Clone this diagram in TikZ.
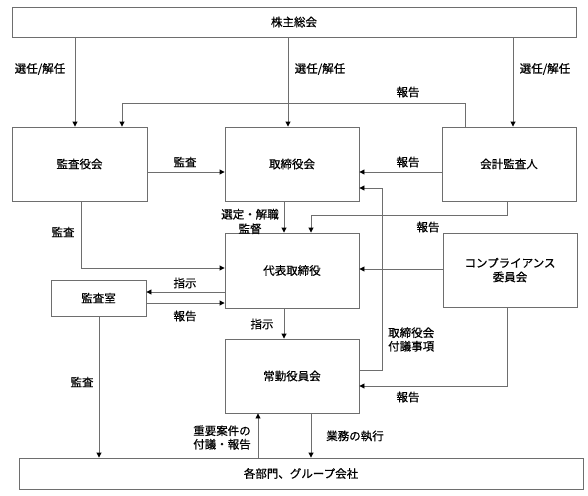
\documentclass[tikz,border=0pt]{standalone}
\usepackage{fontspec}
\setmainfont{Noto Sans CJK JP}[FakeBold=0.6]
\usetikzlibrary{arrows.meta}
\definecolor{linegray}{RGB}{110,110,110}
\tikzset{
  box/.style={draw=linegray, line width=0.9pt, inner sep=0pt, font=\fontsize{11.5}{14}\selectfont},
  arr/.style={draw=linegray, line width=0.9pt, -{Triangle[length=5pt,width=5pt,fill=black,color=black]}},
  plain/.style={draw=linegray, line width=0.9pt},
  lbl/.style={font=\fontsize{11.5}{13.5}\selectfont, inner sep=0pt, align=center}
}
\begin{document}
\begin{tikzpicture}[x=1pt,y=-1pt]
\useasboundingbox[fill=white] (0,0) rectangle (588,495);
% boxes
\node[box, minimum width=564pt, minimum height=30pt] (soukai) at (294,22) {株主総会};
\node[box, minimum width=135pt, minimum height=74pt] (kansayaku) at (79.5,164) {監査役会};
\node[box, minimum width=134pt, minimum height=74pt] (torishimari) at (292,164) {取締役会};
\node[box, minimum width=134pt, minimum height=74pt] (kaikei) at (509,164) {会計監査人};
\node[box, minimum width=134pt, minimum height=75pt] (daihyo) at (292,270.5) {代表取締役};
\node[box, minimum width=134pt, minimum height=74pt, align=center] (comp) at (510,270) {コンプライアンス\\委員会};
\node[box, minimum width=95pt, minimum height=36pt] (kansashitsu) at (98.5,298) {監査室};
\node[box, minimum width=134pt, minimum height=74pt] (joukin) at (292,376) {常勤役員会};
\node[box, minimum width=564pt, minimum height=31pt] (kakubu) at (301,473.5) {各部門、グループ会社};
% helper coordinates
\coordinate (x75) at (75,0);
\coordinate (x81) at (81,0);
\coordinate (x99) at (99,0);
\coordinate (x122) at (122,0);
\coordinate (x258) at (258,0);
\coordinate (x284) at (284,0);
\coordinate (x288) at (288,0);
\coordinate (x311) at (311,0);
\coordinate (x382) at (382,0);
\coordinate (x465) at (465,0);
\coordinate (x507) at (507,0);
\coordinate (x513) at (513,0);
\coordinate (y103) at (0,103);
\coordinate (y172) at (0,172);
\coordinate (y188) at (0,188);
\coordinate (y215) at (0,215);
\coordinate (y268) at (0,268);
\coordinate (y269) at (0,269);
\coordinate (y292) at (0,292);
\coordinate (y303) at (0,303);
\coordinate (y370) at (0,370);
\coordinate (y386) at (0,386);
% connectors from shareholders meeting
\draw[arr] (soukai.south -| x75) -- (kansayaku.north -| x75);
\draw[arr] (soukai.south -| x288) -- (torishimari.north -| x288);
\draw[arr] (soukai.south -| x513) -- (kaikei.north -| x513);
\node[lbl] (l1) at (40,69) {選任/解任};
\node[lbl] (l2) at (320,69) {選任/解任};
\node[lbl] (l3) at (545,69) {選任/解任};
% auditor report to audit board
\draw[arr] (kaikei.north -| x465) -- (x465 |- y103) -- (x122 |- y103) -- (kansayaku.north -| x122);
\node[lbl] (l4) at (408,92) {報告};
% audit board -> board
\draw[arr] (kansayaku.east |- y172) -- (torishimari.west |- y172);
\node[lbl] (l5) at (185,162) {監査};
% auditor -> board
\draw[arr] (kaikei.west |- y172) -- (torishimari.east |- y172);
\node[lbl] (l6) at (408,162) {報告};
% joukin -> board
\draw[arr] (joukin.east |- y370) -- (x382 |- y370) -- (x382 |- y188) -- (torishimari.east |- y188);
\node[lbl, align=left, anchor=west] (l7) at (388,339.5) {取締役会\\付議事項};
% board -> daihyo
\draw[arr] (torishimari.south -| x284) -- (daihyo.north -| x284);
\node[lbl, font=\fontsize{11.5}{14.5}\selectfont] (l8) at (250,221.5) {選定・解職\\監督};
% auditor -> daihyo
\draw[arr] (kaikei.south -| x507) -- (x507 |- y215) -- (x311 |- y215) -- (daihyo.north -| x311);
\node[lbl] (l9) at (428,227) {報告};
% audit board -> daihyo
\draw[arr] (kansayaku.south -| x81) -- (x81 |- y268) -- (daihyo.west |- y268);
\node[lbl] (l10) at (63,232) {監査};
% daihyo <-> kansashitsu
\draw[arr] (daihyo.west |- y292) -- (kansashitsu.east |- y292);
\node[lbl] (l11) at (185,283) {指示};
\draw[arr] (kansashitsu.east |- y303) -- (daihyo.west |- y303);
\node[lbl] (l12) at (185,316) {報告};
% compliance -> daihyo
\draw[arr] (comp.west |- y269) -- (daihyo.east |- y269);
% daihyo -> joukin
\draw[arr] (daihyo.south -| x284) -- (joukin.north -| x284);
\node[lbl] (l13) at (262,324) {指示};
% compliance -> joukin
\draw[arr] (comp.south -| x507) -- (x507 |- y386) -- (joukin.east |- y386);
\node[lbl] (l14) at (408,397) {報告};
% kansashitsu -> kakubu
\draw[arr] (kansashitsu.south -| x99) -- (kakubu.north -| x99);
\node[lbl] (l15) at (82,382) {監査};
% kakubu -> joukin
\draw[arr] (kakubu.north -| x258) -- (joukin.south -| x258);
\node[lbl] (l16) at (222,437.5) {重要案件の\\付議・報告};
% joukin -> kakubu
\draw[arr] (joukin.south -| x311) -- (kakubu.north -| x311);
\node[lbl] (l17) at (355,436) {業務の執行};
\end{tikzpicture}
\end{document}
